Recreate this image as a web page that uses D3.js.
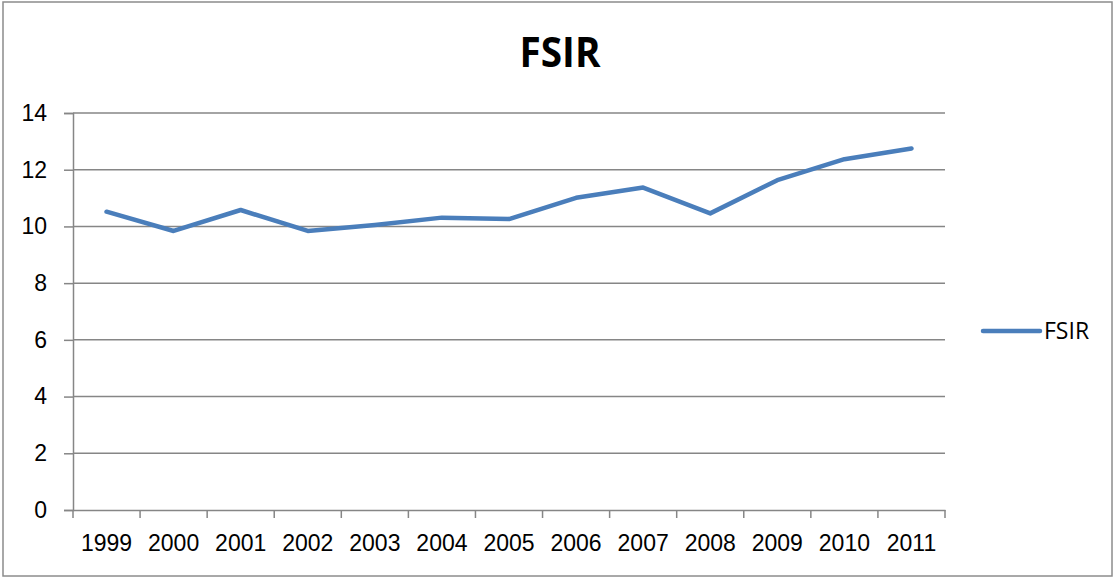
<!DOCTYPE html>
<html>
<head>
<meta charset="utf-8">
<script src="https://cdn.jsdelivr.net/npm/d3@7"></script>
<style>
  body { margin: 0; background: #fff; }
  svg { display: block; font-family: "Open Sans", sans-serif; }
</style>
</head>
<body>
<svg id="chart"></svg>
<script>
const years = ["1999", "2000", "2001", "2002", "2003", "2004", "2005",
               "2006", "2007", "2008", "2009", "2010", "2011"];
const fsir = [10.52, 9.84, 10.58, 9.84, 10.05, 10.31, 10.26,
              11.01, 11.37, 10.46, 11.63, 12.37, 12.75];
const yTicks = [0, 2, 4, 6, 8, 10, 12, 14];
const seriesName = "FSIR";

const width = 1116, height = 578;
const margin = { top: 113, right: 171, bottom: 68, left: 73 };
const lineColor = "#4A7EBB";
const gridColor = "#868686";

const svg = d3.select("#chart")
    .attr("width", width)
    .attr("height", height);

// outer chart border
svg.append("rect")
    .attr("x", 3).attr("y", 2)
    .attr("width", 1109).attr("height", 574)
    .attr("fill", "#fff")
    .attr("stroke", "#8c8c8c")
    .attr("stroke-width", 1.5);

const plotW = width - margin.left - margin.right;
const plotH = height - margin.top - margin.bottom;

const x = d3.scaleBand().domain(years).range([0, plotW]);
const y = d3.scaleLinear().domain([0, 14]).range([plotH, 0]);

const g = svg.append("g")
    .attr("transform", `translate(${margin.left},${margin.top})`);

// gridlines
g.append("g")
    .selectAll("line")
    .data(yTicks.filter(d => d > 0))
    .join("line")
    .attr("x1", 0).attr("x2", plotW)
    .attr("y1", d => y(d)).attr("y2", d => y(d))
    .attr("stroke", gridColor)
    .attr("stroke-width", 1.5);

// y axis
const yAxis = g.append("g")
    .call(d3.axisLeft(y).tickValues(yTicks).tickSize(9).tickPadding(17));
yAxis.select(".domain").attr("stroke", gridColor).attr("stroke-width", 1.5);
yAxis.selectAll(".tick line").attr("stroke", gridColor).attr("stroke-width", 1.5);
yAxis.selectAll("text")
    .style("font-size", "23px")
    .attr("fill", "#000");

// x axis, ticks on category boundaries
const xAxis = g.append("g")
    .attr("transform", `translate(0,${plotH})`)
    .call(d3.axisBottom(x).tickSize(0).tickPadding(25));
xAxis.select(".domain").attr("stroke", gridColor).attr("stroke-width", 1.5);
xAxis.selectAll("text")
    .style("font-size", "23px")
    .attr("fill", "#000");

const bounds = years.map(d => x(d)).concat([plotW]);
g.append("g")
    .selectAll("line")
    .data(bounds)
    .join("line")
    .attr("x1", d => d).attr("x2", d => d)
    .attr("y1", plotH).attr("y2", plotH + 8)
    .attr("stroke", gridColor)
    .attr("stroke-width", 1.5);

// series line
const line = d3.line()
    .x((d, i) => x(years[i]) + x.bandwidth() / 2)
    .y(d => y(d));

g.append("path")
    .datum(fsir)
    .attr("d", line)
    .attr("fill", "none")
    .attr("stroke", lineColor)
    .attr("stroke-width", 4.5)
    .attr("stroke-linejoin", "round")
    .attr("stroke-linecap", "round");

// title
svg.append("text")
    .attr("x", 560).attr("y", 67)
    .attr("text-anchor", "middle")
    .style("font-size", "42px")
    .style("font-weight", "bold")
    .attr("textLength", 81)
    .attr("lengthAdjust", "spacingAndGlyphs")
    .text(seriesName);

// legend
const legend = svg.append("g").attr("transform", "translate(983,331)");
legend.append("line")
    .attr("x1", 0).attr("x2", 57)
    .attr("stroke", lineColor)
    .attr("stroke-width", 4.5)
    .attr("stroke-linecap", "round");
legend.append("text")
    .attr("x", 61).attr("y", 0)
    .attr("dy", "0.35em")
    .style("font-size", "23px")
    .text(seriesName);
</script>
</body>
</html>
